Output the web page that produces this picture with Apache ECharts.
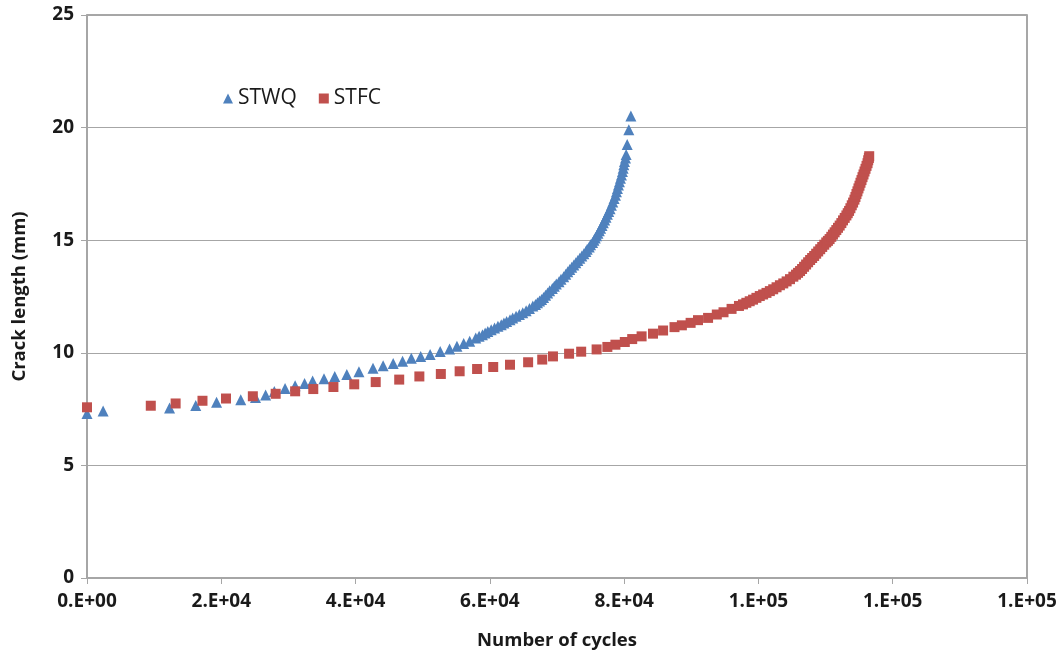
<!DOCTYPE html>
<html>
<head>
<meta charset="utf-8">
<script src="https://cdn.jsdelivr.net/npm/echarts@6/dist/echarts.min.js"></script>
<style>
  html, body { margin: 0; padding: 0; background: #fff; }
  #chart { width: 1063px; height: 659px; }
</style>
</head>
<body>
<div id="chart"></div>
<script>
// STWQ - cycles / crack length (mm)
var stwqCycles = [0, 2400, 12300, 16200, 19300, 22900, 25100, 26600, 27900, 29500,
	31000, 32400, 33600, 35300, 36900, 38700, 40500, 42600, 44100, 45600,
	47000, 48300, 49700, 51100, 52600, 54000, 55100, 56100, 57000, 57900,
	58400, 58900, 59300, 59700, 60200, 60700, 61200, 61700, 62100, 62500,
	63000, 63400, 63900, 64400, 64900, 65400, 65900, 66400, 66800, 67100,
	67400, 67700, 68000, 68300, 68600, 68900, 69300, 69600, 69900, 70300,
	70600, 71000, 71300, 71600, 71900, 72200, 72500, 72800, 73100, 73400,
	73700, 74000, 74300, 74500, 74800, 75000, 75300, 75500, 75700, 75900,
	76100, 76300, 76500, 76700, 76900, 77100, 77300, 77500, 77700, 77900,
	78100, 78300, 78500, 78700, 78850, 79000, 79150, 79300, 79450, 79600,
	79750, 79850, 79950, 80050, 80200, 80300, 80450, 80700, 81000];
var stwqCrack = [7.30, 7.42, 7.55, 7.66, 7.80, 7.92, 8.02, 8.13, 8.28, 8.42,
	8.54, 8.64, 8.75, 8.85, 8.95, 9.04, 9.16, 9.31, 9.43, 9.52,
	9.62, 9.76, 9.84, 9.93, 10.06, 10.17, 10.29, 10.41, 10.51, 10.66,
	10.73, 10.80, 10.88, 10.95, 11.02, 11.10, 11.18, 11.25, 11.32, 11.39,
	11.47, 11.55, 11.62, 11.70, 11.78, 11.87, 11.97, 12.08, 12.15, 12.22,
	12.30, 12.37, 12.46, 12.55, 12.65, 12.75, 12.85, 12.95, 13.05, 13.15,
	13.27, 13.38, 13.49, 13.60, 13.70, 13.80, 13.90, 14.00, 14.10, 14.20,
	14.30, 14.40, 14.50, 14.60, 14.70, 14.80, 14.90, 15.00, 15.10, 15.20,
	15.31, 15.42, 15.53, 15.65, 15.77, 15.90, 16.02, 16.15, 16.27, 16.40,
	16.55, 16.70, 16.85, 17.00, 17.15, 17.30, 17.45, 17.60, 17.75, 17.90,
	18.05, 18.20, 18.35, 18.50, 18.65, 18.80, 19.25, 19.90, 20.52];

// STFC - cycles / crack length (mm)
var stfcCycles = [0, 9500, 13200, 17200, 20700, 24700, 28100, 31000, 33700, 36700,
	39800, 43000, 46500, 49500, 52700, 55500, 58100, 60500, 63000, 65700,
	67800, 69400, 71800, 73600, 75900, 77500, 78700, 80100, 81200, 82600,
	84300, 85800, 87500, 88600, 89900, 91000, 92500, 93800, 94800, 96000,
	97100, 97700, 98200, 98700, 99200, 99700, 100200, 100700, 101200, 101700,
	102200, 102700, 103200, 103700, 104200, 104700, 105200, 105600, 105900, 106200,
	106500, 106800, 107100, 107400, 107700, 108000, 108300, 108600, 108900, 109200,
	109500, 109800, 110100, 110350, 110600, 110850, 111100, 111350, 111600, 111850,
	112100, 112350, 112600, 112850, 113100, 113300, 113500, 113700, 113900, 114100,
	114300, 114450, 114600, 114750, 114900, 115050, 115200, 115350, 115500, 115650,
	115800, 115950, 116100, 116250, 116350, 116450, 116500];
var stfcCrack = [7.58, 7.65, 7.75, 7.87, 7.97, 8.07, 8.18, 8.29, 8.39, 8.48,
	8.60, 8.70, 8.81, 8.95, 9.06, 9.18, 9.28, 9.37, 9.47, 9.58,
	9.70, 9.84, 9.96, 10.05, 10.15, 10.26, 10.36, 10.48, 10.61, 10.73,
	10.85, 10.99, 11.14, 11.22, 11.33, 11.45, 11.55, 11.70, 11.80, 11.95,
	12.08, 12.15, 12.22, 12.29, 12.36, 12.44, 12.52, 12.59, 12.66, 12.74,
	12.82, 12.91, 13.00, 13.08, 13.17, 13.27, 13.38, 13.47, 13.55, 13.63,
	13.72, 13.82, 13.92, 14.02, 14.12, 14.21, 14.30, 14.40, 14.50, 14.60,
	14.70, 14.80, 14.90, 14.97, 15.05, 15.15, 15.25, 15.35, 15.45, 15.55,
	15.65, 15.76, 15.88, 15.99, 16.10, 16.20, 16.30, 16.42, 16.55, 16.67,
	16.80, 16.92, 17.05, 17.17, 17.30, 17.42, 17.55, 17.67, 17.80, 17.92,
	18.05, 18.17, 18.30, 18.42, 18.55, 18.65, 18.73];

var xTicks = [0, 20000, 40000, 60000, 80000, 100000, 120000, 140000];
var yTicks = [0, 5, 10, 15, 20, 25];

function pairs(xs, ys){
	var out = [];
	for (var i = 0; i < xs.length; i++) out.push([xs[i], ys[i]]);
	return out;
}

// excel style "0.E+00"
function sciLabel(v){
	if (v === 0) return '0.E+00';
	var e = Math.floor(Math.log10(v));
	var m = Math.round(v / Math.pow(10, e));
	if (m >= 10) { m = 1; e++; }
	return m + '.E+' + (e < 10 ? '0' + e : e);
}

var myChart = echarts.init(document.getElementById('chart'));
var fontName = 'Open Sans';
var option = {
	backgroundColor: '#fff',
	animation: false,
	grid: {
		left: 87, right: 36, top: 15, bottom: 81,
		show: true, borderColor: '#8a8a8a', borderWidth: 1.5
	},
	legend: {
		left: 218, top: 83,
		itemWidth: 10, itemHeight: 10, itemGap: 22,
		textStyle: { fontFamily: fontName, fontSize: 21, color: '#1a1a1a' },
		data: [
			{ name: 'STWQ', icon: 'triangle', itemStyle: { color: '#4f81bd' } },
			{ name: 'STFC', icon: 'rect', itemStyle: { color: '#c0504d' } }
		]
	},
	xAxis: {
		type: 'value',
		min: xTicks[0], max: xTicks[xTicks.length - 1], interval: 20000,
		name: 'Number of cycles', nameLocation: 'middle', nameGap: 53,
		nameTextStyle: { fontFamily: fontName, fontSize: 18.5, fontWeight: 'bold', color: '#1a1a1a' },
		axisLine: { show: true, lineStyle: { color: '#a6a6a6', width: 1.5 } },
		axisTick: { show: true, length: 6, lineStyle: { color: '#a6a6a6' } },
		axisLabel: { formatter: sciLabel, margin: 14, fontFamily: fontName, fontSize: 19, fontWeight: 'bold', color: '#1a1a1a' },
		splitLine: { show: false }
	},
	yAxis: {
		type: 'value',
		min: yTicks[0], max: yTicks[yTicks.length - 1], interval: 5,
		name: 'Crack length (mm)', nameLocation: 'middle', nameGap: 58,
		nameTextStyle: { fontFamily: fontName, fontSize: 18.5, fontWeight: 'bold', color: '#1a1a1a' },
		axisLine: { show: true, lineStyle: { color: '#a6a6a6', width: 1.5 } },
		axisTick: { show: true, length: 6, lineStyle: { color: '#a6a6a6' } },
		axisLabel: { margin: 13, fontFamily: fontName, fontSize: 19, fontWeight: 'bold', color: '#1a1a1a' },
		splitLine: { show: true, lineStyle: { color: '#a6a6a6', width: 1 } }
	},
	series: [
		{
			name: 'STWQ', type: 'scatter', symbol: 'triangle', symbolSize: 11,
			itemStyle: { color: '#4f81bd', opacity: 1 },
			data: pairs(stwqCycles, stwqCrack)
		},
		{
			name: 'STFC', type: 'scatter', symbol: 'rect', symbolSize: 10,
			itemStyle: { color: '#c0504d', opacity: 1 },
			data: pairs(stfcCycles, stfcCrack)
		}
	]
};
myChart.setOption(option, true);
</script>
</body>
</html>
